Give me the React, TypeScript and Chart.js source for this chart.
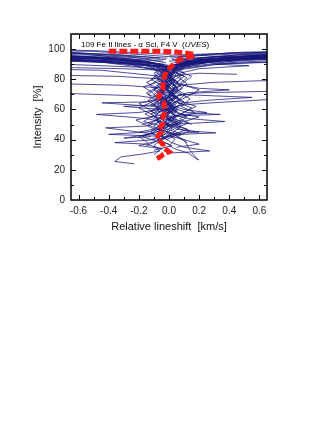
import React, { useEffect, useRef } from "react";
import { Chart, registerables } from "chart.js";

Chart.register(...registerables);

type P = [number, number];

const titleMain = "109 Fe II lines - α Sci, F4 V  (";
const titleItalic = "UVES";
const titleEnd = ")";
const xAxisTitle = "Relative lineshift  [km/s]";
const yAxisTitle = "Intensity  [%]";

const xTickValues = [-0.6, -0.4, -0.2, 0, 0.2, 0.4, 0.6];
const yTickValues = [0, 20, 40, 60, 80, 100];
const xMinorTicks = [-0.6, -0.5, -0.4, -0.3, -0.2, -0.1, 0, 0.1, 0.2, 0.3, 0.4, 0.5, 0.6];
const yMinorTicks = [10, 20, 30, 40, 50, 60, 70, 80, 90, 100];

// Mean bisector (red)
const meanBisector: P[] = [
  [-0.08, 27.5], [-0.06, 28.5], [-0.04, 30], [0.0, 32], [-0.02, 33.5], [-0.04, 35],
  [-0.04, 37], [-0.06, 39], [-0.08, 41], [-0.07, 43], [-0.05, 45], [-0.06, 47],
  [-0.05, 49], [-0.04, 51], [-0.03, 53], [-0.04, 55], [-0.03, 57], [-0.03, 60],
  [-0.03, 63], [-0.04, 65], [-0.06, 67], [-0.07, 69], [-0.05, 71], [-0.04, 73],
  [-0.04, 76], [-0.035, 79], [-0.03, 82], [-0.02, 85], [0.0, 87], [0.02, 89],
  [0.04, 91], [0.07, 93], [0.12, 94.5], [0.16, 95.5], [0.17, 96.5], [0.12, 97.3],
  [0.05, 98], [-0.05, 98.5], [-0.2, 98.5], [-0.4, 98.5],
];

// Individual line bisectors (blue), deep lines
const deepBisectors: P[][] = [
  [[-0.23, 24], [-0.36, 25.5], [-0.32, 28.5], [-0.16, 30.7], [-0.06, 32.5], [-0.1, 36], [-0.05, 40], [-0.12, 45], [-0.06, 50], [-0.09, 56], [-0.03, 62], [-0.08, 68], [-0.02, 74], [-0.05, 80], [0.0, 86], [0.1, 91], [0.4, 94], [0.9, 96]],
  [[0.2, 26.5], [0.17, 28], [0.13, 31], [0.05, 33.5], [0.0, 36], [0.04, 40], [-0.02, 45], [0.03, 50], [-0.01, 56], [0.05, 62], [0.0, 68], [0.04, 75], [0.0, 82], [0.05, 88], [0.2, 93], [0.6, 96], [1.0, 97]],
  [[-0.02, 31], [0.27, 32.5], [0.1, 35], [0.02, 38], [-0.05, 42], [0.02, 47], [-0.04, 53], [0.01, 58], [-0.06, 64], [0.02, 70], [-0.03, 77], [0.02, 84], [-0.05, 90], [-0.4, 94], [-1.0, 96]],
  [[-0.1, 30], [-0.05, 34], [-0.15, 37], [-0.36, 38], [-0.1, 40], [-0.02, 44], [-0.1, 49], [-0.03, 55], [-0.08, 60], [0.0, 66], [-0.06, 72], [0.02, 78], [-0.02, 85], [0.08, 90], [0.3, 93], [0.8, 95]],
  [[0.19, 26.5], [0.14, 33], [0.1, 40], [0.02, 44], [0.08, 49], [0.0, 54], [0.06, 60], [-0.02, 66], [0.03, 72], [-0.04, 78], [0.01, 84], [-0.08, 90], [-0.3, 93], [-0.9, 95.5]],
  [[-0.04, 34], [-0.2, 36], [-0.08, 39], [0.0, 42], [-0.4, 43.5], [-0.15, 45], [-0.02, 48], [0.08, 52], [-0.04, 57], [0.03, 63], [-0.05, 69], [0.05, 75], [-0.03, 81], [0.02, 87], [0.25, 92], [0.9, 95]],
  [[0.05, 35], [0.2, 37], [0.1, 40], [-0.02, 43], [0.31, 44.5], [0.1, 46], [0.0, 50], [-0.06, 55], [0.04, 61], [-0.03, 67], [0.06, 73], [-0.01, 80], [0.04, 86], [-0.1, 91], [-0.6, 95], [-1.0, 96.5]],
  [[-0.08, 38], [-0.02, 41], [-0.12, 44], [-0.42, 47.8], [-0.15, 49], [-0.05, 52], [-0.12, 57], [-0.02, 62], [-0.08, 68], [0.0, 74], [-0.05, 80], [0.03, 86], [0.12, 90], [0.5, 94], [1.0, 96]],
  [[0.0, 37], [-0.08, 40], [0.05, 44], [0.12, 47], [0.0, 50], [0.37, 52], [0.12, 54], [0.02, 57], [-0.04, 62], [0.04, 68], [-0.04, 74], [0.03, 80], [-0.02, 86], [-0.2, 92], [-0.8, 95]],
  [[-0.15, 36], [-0.08, 39], [-0.18, 42], [-0.06, 46], [-0.14, 50], [-0.04, 55], [-0.12, 59], [-0.03, 64], [-0.1, 70], [0.0, 76], [-0.06, 82], [0.0, 88], [0.3, 93], [1.0, 96]],
  [[0.12, 38], [0.05, 42], [0.14, 46], [0.04, 50], [0.12, 55], [0.02, 60], [0.1, 65], [0.0, 70], [0.08, 76], [0.0, 82], [0.05, 87], [-0.15, 92], [-0.9, 97]],
  [[-0.1, 33], [0.02, 36], [-0.08, 40], [0.05, 43], [-0.06, 47], [0.0, 52], [-0.02, 58], [-0.1, 63], [-0.02, 69], [-0.09, 75], [0.0, 81], [-0.04, 87], [0.1, 92], [0.6, 96], [1.0, 97]],
  [[-0.12, 42], [-0.3, 41], [-0.1, 44], [-0.03, 48], [-0.09, 53], [0.01, 59], [-0.06, 64], [0.02, 70], [-0.05, 76], [0.01, 82], [-0.03, 88], [0.2, 93.5], [1.0, 98]],
  [[-0.02, 40], [0.08, 44], [-0.05, 48], [0.06, 52], [-0.06, 56], [0.05, 60], [-0.05, 65], [0.04, 70], [-0.04, 75], [0.03, 81], [-0.03, 86], [0.15, 91], [0.8, 97]],
  [[-0.14, 38], [-0.2, 42], [-0.1, 45], [-0.05, 49], [-0.17, 52], [-0.1, 56], [-0.2, 61], [-0.09, 66], [-0.15, 71], [-0.05, 76], [-0.12, 80], [-0.04, 85], [-0.15, 89], [-0.6, 93], [-1.0, 95]],
];

// Medium-depth lines
const midBisectors: P[][] = [
  [[-0.12, 40], [-0.04, 43], [-0.1, 47], [-0.02, 51], [-0.15, 54], [-0.48, 56.7], [-0.2, 58], [-0.06, 60], [0.0, 64], [-0.07, 70], [0.01, 76], [-0.05, 82], [-0.02, 88], [-0.3, 92], [-1.0, 94]],
  [[0.03, 42], [-0.03, 46], [0.06, 50], [-0.02, 54], [0.1, 56], [0.34, 56.7], [0.12, 58], [0.02, 61], [-0.03, 66], [0.05, 71], [-0.02, 77], [0.02, 83], [0.1, 89], [0.4, 93], [1.0, 95.5]],
  [[-0.06, 45], [0.0, 49], [-0.08, 53], [-0.01, 58], [-0.1, 62], [-0.445, 64.4], [-0.15, 65], [-0.03, 67], [-0.08, 72], [-0.01, 78], [-0.06, 84], [0.02, 89], [0.2, 93], [0.7, 95.5]],
  [[0.04, 46], [-0.02, 50], [0.05, 55], [0.0, 60], [0.08, 63], [0.3, 64.5], [0.65, 66.5], [1.0, 67]],
  [[0.08, 43], [-0.08, 47], [0.09, 51], [-0.1, 55], [0.05, 59], [-0.08, 63], [0.06, 68], [-0.06, 73], [0.04, 79], [-0.05, 85], [-0.3, 91], [-1.0, 96]],
  [[0.0, 44], [0.2, 45], [0.05, 47], [-0.03, 51], [0.04, 56], [-0.04, 61], [0.03, 66], [-0.05, 72], [0.02, 78], [-0.04, 84], [0.02, 89], [-0.4, 94], [-1.0, 97.5]],
  [[-0.2, 45], [-0.1, 47], [-0.16, 50], [-0.22, 53], [-0.08, 56], [-0.13, 60], [-0.2, 64], [-0.07, 67], [-0.12, 72], [-0.17, 75], [-0.05, 79], [-0.1, 84], [-0.02, 88], [-0.4, 92], [-1.0, 94.5]],
  [[0.05, 48], [0.13, 51], [0.02, 54], [0.1, 58], [0.18, 62], [0.06, 66], [0.11, 70], [0.03, 74], [0.1, 78], [0.15, 82], [0.05, 86], [0.4, 91], [1.0, 94]],
  [[-0.05, 48], [0.02, 52], [-0.04, 57], [0.03, 62], [-0.06, 67], [-0.2, 69], [-0.65, 70.5], [-1.0, 71]],
  [[0.0, 50], [-0.06, 54], [0.02, 59], [-0.03, 64], [0.05, 69], [0.2, 71], [0.65, 72], [1.0, 72.5]],
  [[-0.18, 50], [-0.08, 53], [-0.16, 57], [-0.07, 61], [-0.14, 66], [-0.06, 71], [-0.13, 76], [-0.05, 81], [-0.1, 87], [-0.5, 92], [-1.0, 93.5]],
  [[0.15, 50], [0.07, 54], [0.17, 58], [0.08, 62], [0.14, 67], [0.05, 72], [0.12, 77], [0.04, 83], [0.1, 88], [0.5, 93], [1.0, 94.5]],
  [[0.1, 52], [0.2, 55], [0.08, 57], [0.15, 61], [0.05, 65], [0.13, 69], [0.2, 73], [0.07, 77], [0.12, 81], [0.02, 86], [0.25, 91], [1.0, 95]],
  [[-0.03, 52], [0.04, 56], [-0.02, 61], [0.06, 66], [0.0, 71], [0.07, 76], [0.3, 78], [0.6, 79], [1.0, 79.5]],
  [[0.0, 54], [0.08, 57], [-0.04, 60], [0.1, 63], [0.0, 67], [0.12, 71], [0.4, 73], [0.2, 74], [0.05, 77], [0.1, 82], [0.0, 86], [0.3, 90], [1.0, 93]],
  [[0.02, 55], [-0.05, 59], [0.01, 64], [-0.07, 69], [-0.02, 74], [-0.3, 76], [-0.7, 77], [-1.0, 77.5]],
  [[0.03, 56], [0.25, 58], [0.1, 60], [0.0, 63], [0.05, 68], [-0.02, 73], [0.04, 79], [-0.01, 85], [-0.2, 91], [-0.8, 95]],
  [[-0.08, 57], [-0.02, 61], [-0.09, 66], [-0.03, 71], [-0.08, 76], [-0.02, 80], [-0.35, 82], [-1.0, 83]],
  [[0.06, 58], [0.0, 62], [0.07, 67], [0.01, 72], [0.06, 78], [0.0, 82], [0.2, 84], [0.45, 83.3]],
  [[-0.09, 58], [0.0, 60], [-0.12, 63], [-0.05, 67], [-0.14, 70], [-0.08, 74], [-0.15, 78], [-0.06, 82], [-0.45, 86], [-1.0, 87]],
  [[-0.06, 60], [-0.3, 62], [-0.1, 63], [-0.02, 66], [-0.07, 71], [0.0, 77], [-0.06, 83], [0.0, 89], [0.35, 94], [1.0, 97]],
  [[-0.02, 60], [0.05, 64], [-0.01, 69], [0.06, 74], [0.01, 79], [0.07, 84], [0.2, 87], [0.53, 89], [0.3, 90], [0.9, 92]],
];

// Shallow lines
const shallowBisectors: P[][] = [
  [[0.01, 62], [-0.05, 66], [0.02, 71], [-0.04, 76], [0.02, 81], [-0.03, 86], [-0.2, 88], [-0.7, 90], [-1.0, 91]],
  [[-0.1, 64], [-0.04, 68], [-0.1, 73], [-0.03, 78], [-0.1, 82], [-0.05, 86], [-0.3, 87], [-0.8, 88]],
  [[0.06, 64], [0.25, 66], [0.55, 68], [0.3, 69], [0.06, 70], [0.02, 75], [0.08, 81], [0.03, 87], [0.15, 92], [0.6, 95.5], [1.0, 96.5]],
  [[0.08, 66], [0.02, 70], [0.09, 74], [0.03, 79], [0.1, 84], [0.05, 88], [0.3, 92], [0.8, 96]],
  [[-0.04, 68], [0.03, 72], [-0.03, 77], [0.04, 82], [-0.02, 87], [0.1, 91], [0.45, 94], [1.0, 96.5]],
  [[0.03, 70], [-0.03, 74], [0.04, 78], [-0.02, 83], [0.03, 88], [-0.15, 92], [-0.5, 94], [-1.0, 95]],
  [[-0.07, 72], [-0.01, 76], [-0.08, 80], [-0.02, 85], [-0.1, 89], [-0.4, 92], [-1.0, 93]],
  [[0.0, 74], [0.06, 78], [0.0, 82], [0.06, 86], [0.02, 89], [0.25, 93], [0.7, 96], [1.0, 97]],
  [[-0.05, 76], [0.02, 80], [-0.04, 84], [0.01, 88], [-0.25, 91], [-0.7, 93], [-1.0, 94]],
  [[0.04, 78], [-0.02, 82], [0.05, 86], [0.15, 90], [0.5, 93.5], [1.0, 95]],
  [[-0.02, 80], [0.04, 84], [-0.02, 88], [-0.2, 90], [-0.6, 92], [-1.0, 92.5]],
  [[0.02, 82], [-0.04, 86], [0.03, 89], [0.25, 92], [0.65, 95], [1.0, 96]],
  [[-0.06, 84], [0.0, 87], [-0.08, 90], [-0.35, 93], [-1.0, 96]],
  [[0.05, 85], [0.1, 89], [0.35, 93], [1.0, 97.5]],
  [[-0.03, 86], [-0.1, 90], [-0.3, 94], [-1.0, 97]],
  [[0.0, 88], [0.15, 92], [0.45, 95], [1.0, 98]],
  [[-0.05, 89], [-0.2, 93], [-0.6, 97], [-1.0, 98.5]],
  [[0.05, 90], [0.2, 94], [0.5, 96.5], [1.0, 97]],
  [[-0.02, 91], [-0.25, 95], [-0.7, 98], [-1.0, 99]],
];

// Very shallow lines near continuum
const continuumBisectors: P[][] = [
  [[0.0, 92], [0.3, 95], [1.0, 96]],
  [[0.02, 93], [0.5, 96.5], [1.0, 97.2]],
  [[-0.02, 93], [-0.5, 96], [-1.0, 97]],
  [[0.01, 94], [0.4, 97.5], [1.0, 98.2]],
  [[-0.01, 94], [-0.6, 97.5], [-1.0, 98]],
  [[0.0, 95], [0.5, 98], [1.0, 98.8]],
  [[0.0, 95], [-0.5, 98.5], [-1.0, 99.2]],
  [[0.03, 91], [0.35, 94], [1.0, 95.8]],
  [[-0.03, 90], [-0.45, 93.5], [-1.0, 95.5]],
  [[0.04, 92], [0.6, 95], [1.0, 96.2]],
  [[-0.04, 92], [-0.5, 95], [-1.0, 96.3]],
  [[0.0, 96], [0.6, 97.8], [1.0, 98.4]],
  [[0.0, 96.5], [-0.5, 99], [-1.0, 99.8]],
  [[0.02, 89], [0.3, 92], [1.0, 94.8]],
  [[-0.04, 88], [-0.4, 91], [-1.0, 93.2]],
  [[0.05, 93], [0.45, 95.5], [1.0, 96.8]],
  [[-0.06, 94], [-0.35, 96.5], [-1.0, 98.6]],
  [[0.06, 95], [0.5, 97], [1.0, 97.8]],
];

const allBisectors: P[][] = [...deepBisectors, ...midBisectors, ...shallowBisectors, ...continuumBisectors];

const toXY = (pts: P[]) => pts.map(([x, y]) => ({ x, y }));

const framePlugin = {
  id: "frameTicks",
  afterDraw(chart: any) {
    const { ctx, chartArea, scales } = chart;
    const { left, right, top, bottom } = chartArea;
    const xs = scales.x;
    const ys = scales.y;
    ctx.save();
    ctx.strokeStyle = "#000";
    ctx.lineWidth = 1;
    ctx.beginPath();
    for (const v of xMinorTicks) {
      const px = Math.round(xs.getPixelForValue(v)) + 0.5;
      const major = xTickValues.some((t) => Math.abs(t - v) < 1e-9);
      const len = major ? 5 : 3;
      ctx.moveTo(px, bottom);
      ctx.lineTo(px, bottom - len);
      ctx.moveTo(px, top);
      ctx.lineTo(px, top + len);
    }
    for (const v of yMinorTicks) {
      const py = Math.round(ys.getPixelForValue(v)) + 0.5;
      const major = yTickValues.includes(v);
      const len = major ? 5 : 3;
      ctx.moveTo(left, py);
      ctx.lineTo(left + len, py);
      ctx.moveTo(right, py);
      ctx.lineTo(right - len, py);
    }
    ctx.stroke();
    ctx.lineWidth = 1.5;
    ctx.strokeRect(left, top, right - left, bottom - top);

    // inner caption
    ctx.fillStyle = "#000";
    ctx.textBaseline = "middle";
    ctx.textAlign = "left";
    const cx = left + 10;
    const cy = top + 11;
    ctx.font = "8px 'Liberation Sans', Arial, sans-serif";
    ctx.fillText(titleMain, cx, cy);
    let w = ctx.measureText(titleMain).width;
    ctx.font = "italic 8px 'Liberation Sans', Arial, sans-serif";
    ctx.fillText(titleItalic, cx + w, cy);
    w += ctx.measureText(titleItalic).width;
    ctx.font = "8px 'Liberation Sans', Arial, sans-serif";
    ctx.fillText(titleEnd, cx + w, cy);
    ctx.restore();
  },
};

export default function App() {
  const ref = useRef<HTMLCanvasElement | null>(null);

  useEffect(() => {
    if (!ref.current) return;
    const datasets: any[] = [
      {
        data: toXY(meanBisector),
        borderColor: "#ff1a1a",
        borderWidth: 5,
        borderDash: [8, 3],
        pointRadius: 0,
        showLine: true,
        order: 0,
        clip: 0,
        tension: 0,
      },
      ...allBisectors.map((b) => ({
        data: toXY(b),
        borderColor: "rgba(24,24,124,0.85)",
        borderWidth: 0.9,
        pointRadius: 0,
        showLine: true,
        order: 1,
        clip: 0,
        tension: 0,
      })),
    ];
    const font = { family: "'Liberation Sans', Arial, sans-serif" };
    const chart = new Chart(ref.current, {
      type: "scatter",
      data: { datasets },
      options: {
        animation: false,
        responsive: false,
        devicePixelRatio: 1,
        layout: { padding: { left: 0, top: 34, right: 60, bottom: 200 } },
        plugins: { legend: { display: false }, tooltip: { enabled: false } },
        scales: {
          x: {
            type: "linear",
            min: -0.65,
            max: 0.65,
            afterBuildTicks: (s: any) => {
              s.ticks = xTickValues.map((v) => ({ value: v }));
            },
            afterFit: (s: any) => {
              s.height = 40;
            },
            grid: { display: false, drawTicks: false },
            border: { display: false },
            ticks: {
              padding: 5,
              color: "#222",
              font: { ...font, size: 10 },
              autoSkip: false,
              maxRotation: 0,
              callback: (v: any) => Number(v).toFixed(1),
            },
            title: {
              display: true,
              text: xAxisTitle,
              color: "#111",
              font: { ...font, size: 11 },
              padding: { top: 0, bottom: 6.5 },
            },
          },
          y: {
            type: "linear",
            min: 0,
            max: 110,
            afterBuildTicks: (s: any) => {
              s.ticks = yTickValues.map((v) => ({ value: v }));
            },
            afterFit: (s: any) => {
              s.width = 71;
            },
            grid: { display: false, drawTicks: false },
            border: { display: false },
            ticks: {
              padding: 6,
              color: "#222",
              font: { ...font, size: 10 },
              autoSkip: false,
              callback: (v: any) => String(v),
            },
            title: {
              display: true,
              text: yAxisTitle,
              color: "#111",
              font: { ...font, size: 11 },
              padding: { top: 31.5, bottom: 0 },
            },
          },
        },
      },
      plugins: [framePlugin],
    });
    return () => chart.destroy();
  }, []);

  return (
    <div style={{ position: "fixed", left: 0, top: 0, width: 327, height: 440, background: "#fff" }}>
      <canvas ref={ref} width={327} height={440} style={{ display: "block", width: 327, height: 440 }} />
    </div>
  );
}
